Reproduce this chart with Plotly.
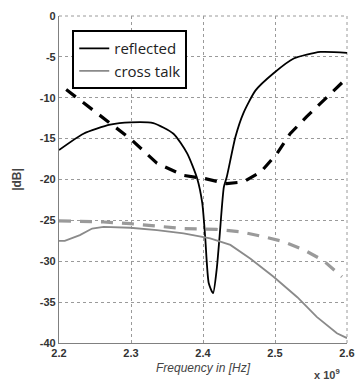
import plotly.graph_objects as go

# Reflected (solid black)
refl_f = [2.2, 2.234, 2.271, 2.299, 2.331, 2.359, 2.378, 2.392, 2.399, 2.403, 2.408, 2.414,
          2.419, 2.423, 2.429, 2.433, 2.445, 2.456, 2.473, 2.498, 2.526, 2.563, 2.6]
refl_db = [-16.4, -14.4, -13.3, -13.0, -13.1, -14.4, -16.8, -19.9, -22.9, -27.0, -32.7, -33.9,
           -31.0, -27.0, -20.9, -19.7, -14.8, -11.9, -9.1, -7.0, -5.2, -4.4, -4.5]

# Reflected, second case (dashed black)
refl2_f = [2.21, 2.24, 2.271, 2.299, 2.336, 2.373, 2.403, 2.433, 2.456, 2.48, 2.503, 2.521,
           2.544, 2.568, 2.595]
refl2_db = [-9.0, -11.0, -13.1, -15.0, -18.0, -19.5, -19.9, -20.5, -20.3, -19.1, -16.8, -14.4,
            -12.3, -10.3, -8.0]

# Cross talk (solid gray)
xt_f = [2.2, 2.208, 2.229, 2.246, 2.262, 2.299, 2.336, 2.373, 2.41, 2.438, 2.466, 2.498,
        2.531, 2.558, 2.586, 2.6]
xt_db = [-27.5, -27.5, -26.8, -26.0, -25.8, -25.9, -26.2, -26.6, -27.2, -28.0, -29.7, -31.9,
         -34.4, -36.8, -38.8, -39.4]

# Cross talk, second case (dashed gray)
xt2_f = [2.2, 2.262, 2.299, 2.336, 2.373, 2.419, 2.452, 2.484, 2.512, 2.54, 2.567, 2.593]
xt2_db = [-25.05, -25.2, -25.4, -25.7, -26.0, -26.1, -26.4, -27.0, -27.6, -28.6, -29.9, -31.9]

x_ticks = [2.2, 2.3, 2.4, 2.5, 2.6]
x_ticklabels = ["2.2", "2.3", "2.4", "2.5", "2.6"]
y_ticks = [0, -5, -10, -15, -20, -25, -30, -35, -40]
y_ticklabels = ["0", "-5", "-10", "-15", "-20", "-25", "-30", "-35", "-40"]

fig = go.Figure()
fig.add_trace(go.Scatter(x=refl2_f, y=refl2_db, mode="lines", showlegend=False,
                         line=dict(color="black", width=3.2, dash="12px,9px")))
fig.add_trace(go.Scatter(x=xt2_f, y=xt2_db, mode="lines", showlegend=False,
                         line=dict(color="#9a9a9a", width=3.2, dash="12px,9px")))
fig.add_trace(go.Scatter(x=refl_f, y=refl_db, mode="lines", name="reflected",
                         line=dict(color="black", width=1.8, shape="spline", smoothing=0.6)))
fig.add_trace(go.Scatter(x=xt_f, y=xt_db, mode="lines", name="cross talk",
                         line=dict(color="#8a8a8a", width=1.8)))

tick_font = dict(family="Liberation Sans", size=11, color="#333")
axis_common = dict(showgrid=True, gridcolor="#9a9a9a", griddash="dot", gridwidth=1,
                   zeroline=False, showline=True, linecolor="#808080", linewidth=1.2,
                   ticks="", automargin=False, tickfont=tick_font)

fig.update_xaxes(range=[2.2, 2.6], tickvals=x_ticks,
                 ticktext=["<b>%s</b>" % t for t in x_ticklabels],
                 **axis_common)
fig.update_yaxes(range=[-40, 0], tickvals=y_ticks,
                 ticktext=["<b>%s</b>" % t for t in y_ticklabels],
                 title=dict(text="<b>|dB|</b>",
                            font=dict(family="Liberation Sans", size=12, color="#444")),
                 **axis_common)

# dotted frame on top and right (as in the reference)
for x0, y0, x1, y1 in [(0, 1, 1, 1), (1, 0, 1, 1)]:
    fig.add_shape(type="line", xref="paper", yref="paper", x0=x0, y0=y0, x1=x1, y1=y1,
                  line=dict(color="#9a9a9a", width=1, dash="dot"), layer="below")

# x-axis title (placed as in the reference)
fig.add_annotation(xref="paper", yref="paper", x=0.5, y=-0.048, xanchor="center", yanchor="top",
                   text="<i>Frequency in [Hz]</i>", showarrow=False,
                   font=dict(family="Liberation Sans", size=12, color="#444"))
fig.add_annotation(xref="paper", yref="paper", x=0.93, y=-0.066, xanchor="center", yanchor="top",
                   text="<b>x 10<sup>9</sup></b>", showarrow=False,
                   font=dict(family="Liberation Sans", size=11, color="#444"))

fig.update_layout(
    width=358, height=383,
    margin=dict(l=59, r=11, t=16, b=40),
    paper_bgcolor="white", plot_bgcolor="white",
    legend=dict(x=0.046, y=0.957, xanchor="left", yanchor="top",
                bgcolor="white", bordercolor="black", borderwidth=2,
                font=dict(family="Open Sans", size=15, color="#222"),
                tracegroupgap=0, itemwidth=30),
)

fig.write_html("out.html", config={"displayModeBar": False},
               post_script="document.body.style.margin='0';document.body.style.overflow='hidden';")
